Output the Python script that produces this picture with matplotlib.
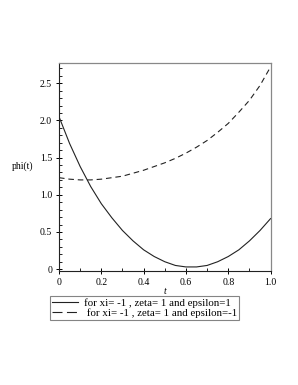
import matplotlib
matplotlib.use("Agg")
import matplotlib.pyplot as plt
from matplotlib.ticker import MultipleLocator, FixedFormatter, FixedLocator

# values, t in steps of 0.05
t_vals = [0.0, 0.05, 0.1, 0.15, 0.2, 0.25, 0.3, 0.35, 0.4, 0.45, 0.5,
          0.55, 0.6, 0.65, 0.7, 0.75, 0.8, 0.85, 0.9, 0.95, 1.0]
phi_eps_pos = [2.05, 1.69, 1.38, 1.11, 0.88, 0.69, 0.52, 0.38, 0.26, 0.17, 0.10,
               0.05, 0.03, 0.03, 0.05, 0.10, 0.17, 0.26, 0.38, 0.52, 0.68]
phi_eps_neg = [1.23, 1.21, 1.20, 1.20, 1.21, 1.23, 1.25, 1.29, 1.33, 1.38, 1.43,
               1.49, 1.56, 1.64, 1.73, 1.84, 1.96, 2.11, 2.27, 2.47, 2.72]

labels = ["for xi= -1 , zeta= 1 and epsilon=1",
          " for xi= -1 , zeta= 1 and epsilon=-1"]

x_ticks = [0, 0.2, 0.4, 0.6, 0.8, 1.0]
x_tick_labels = ["0", "0.2", "0.4", "0.6", "0.8", "1.0"]
y_ticks = [0, 0.5, 1.0, 1.5, 2.0, 2.5]
y_tick_labels = ["0", "0.5", "1.0", "1.5", "2.0", "2.5"]

plt.rcParams["font.family"] = "Liberation Serif"

fig = plt.figure(figsize=(2.98, 3.85), dpi=100)
ax = fig.add_axes([0.198, 0.297, 0.710, 0.539])

ax.plot(t_vals, phi_eps_pos, color="#222222", lw=0.8, label=labels[0])
ax.plot(t_vals, phi_eps_neg, color="#222222", lw=0.8, linestyle=(0, (5, 3.5)),
        label=labels[1])

ax.set_xlim(0, 1.0)
ax.set_ylim(-0.02, 2.77)

ax.xaxis.set_major_locator(FixedLocator(x_ticks))
ax.xaxis.set_major_formatter(FixedFormatter(x_tick_labels))
ax.yaxis.set_major_locator(FixedLocator(y_ticks))
ax.yaxis.set_major_formatter(FixedFormatter(y_tick_labels))
ax.xaxis.set_minor_locator(MultipleLocator(0.1))
ax.yaxis.set_minor_locator(MultipleLocator(0.1))

ax.tick_params(which="major", direction="inout", length=4, width=0.7, labelsize=7, pad=3)
ax.tick_params(which="minor", direction="in", length=2, width=0.6)
ax.tick_params(top=False, right=False)

for side in ["top", "right"]:
    ax.spines[side].set_color("#888888")
    ax.spines[side].set_linewidth(0.9)
for side in ["left", "bottom"]:
    ax.spines[side].set_color("#222222")
    ax.spines[side].set_linewidth(0.8)

ax.set_xlabel("t", fontsize=7, style="italic", labelpad=0)
ax.set_ylabel("phi(t)", fontsize=7, rotation=0, labelpad=12)
ax.yaxis.set_label_coords(-0.17, 0.48)

leg = fig.legend(loc="upper left", bbox_to_anchor=(50 / 298, 1 - 296 / 385),
                 fontsize=7.8, frameon=True, fancybox=False, handlelength=2.4,
                 handletextpad=0.5, borderpad=0.2, labelspacing=0.05,
                 borderaxespad=0)
leg.get_frame().set_edgecolor("#666666")
leg.get_frame().set_linewidth(0.8)
leg.get_lines()[1].set_linestyle((0, (9, 4)))

fig.savefig("out.png", dpi=100)
